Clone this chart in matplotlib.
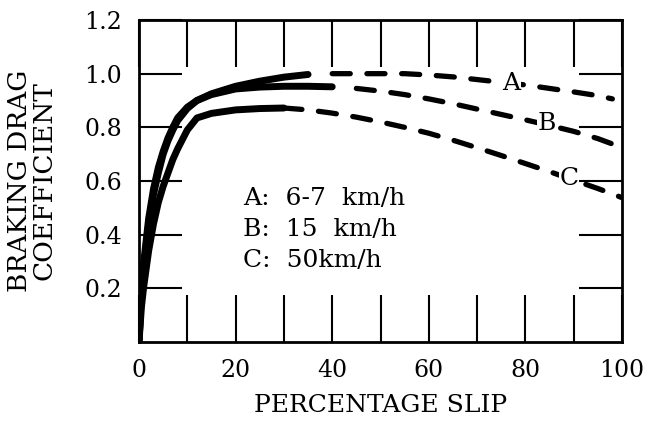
import matplotlib
matplotlib.use("Agg")
import matplotlib.pyplot as plt
import numpy as np

# ---- data ----
slip_a = [0, 0.5, 1, 2, 3, 4, 5, 6, 7, 8, 10, 12, 15, 20, 25, 30, 35, 40, 45, 50,
          55, 60, 65, 70, 75, 80, 85, 90, 95, 98]
coef_a = [0, 0.20, 0.30, 0.46, 0.57, 0.65, 0.71, 0.76, 0.80, 0.835, 0.875, 0.90, 0.925,
          0.953, 0.972, 0.987, 0.997, 1.0, 1.0, 1.0, 1.0, 0.995, 0.988, 0.978, 0.968,
          0.958, 0.945, 0.932, 0.918, 0.906]
slip_b = [0, 0.5, 1, 2, 3, 4, 5, 6, 7, 8, 10, 12, 15, 20, 25, 30, 35, 40, 45, 50,
          55, 60, 65, 70, 75, 80, 85, 90, 95, 98]
coef_b = [0, 0.18, 0.28, 0.44, 0.55, 0.63, 0.70, 0.75, 0.79, 0.825, 0.87, 0.90, 0.922,
          0.943, 0.95, 0.953, 0.953, 0.951, 0.945, 0.935, 0.922, 0.906, 0.888, 0.868,
          0.848, 0.828, 0.807, 0.785, 0.758, 0.738]
slip_c = [0, 0.5, 1, 2, 3, 4, 5, 6, 7, 8, 10, 12, 15, 20, 25, 30, 35, 40, 45, 50,
          55, 60, 65, 70, 75, 80, 85, 90, 95, 100]
coef_c = [0, 0.13, 0.21, 0.34, 0.44, 0.52, 0.58, 0.63, 0.68, 0.72, 0.79, 0.835, 0.852,
          0.865, 0.870, 0.872, 0.865, 0.853, 0.838, 0.820, 0.800, 0.778, 0.752, 0.724,
          0.695, 0.665, 0.635, 0.603, 0.572, 0.538]
solid_until = {"A": 37, "B": 43, "C": 30}

curve_labels = ["A", "B", "C"]
label_pos_x = [77, 84.5, 89]
label_pos_y = [0.963, 0.815, 0.61]

legend_lines = ["A:  6-7  km/h", "B:  15  km/h", "C:  50km/h"]
legend_y = [0.535, 0.42, 0.305]
legend_x = 21.5

x_major = [0, 20, 40, 60, 80, 100]
x_minor = [10, 30, 50, 70, 90]
y_ticks = [0.2, 0.4, 0.6, 0.8, 1.0, 1.2]
y_ticklabels = ["0.2", "0.4", "0.6", "0.8", "1.0", "1.2"]

xlabel = "PERCENTAGE SLIP"
ylabel = "BRAKING DRAG\nCOEFFICIENT"

plt.rcParams['font.family'] = ['DejaVu Serif']
plt.rcParams['lines.scale_dashes'] = False

fig = plt.figure(figsize=(6.5, 4.25), dpi=100)
ax = fig.add_axes([139/650, 1-342/425, 483/650, 322/425])

series = {"A": (slip_a, coef_a), "B": (slip_b, coef_b), "C": (slip_c, coef_c)}
for name, (xs, ys) in series.items():
    xs = np.array(xs, dtype=float)
    ys = np.array(ys, dtype=float)
    s = solid_until[name]
    m1 = xs <= s
    m2 = xs >= s
    ax.plot(xs[m1], ys[m1], color='black', lw=5, solid_capstyle='round',
            solid_joinstyle='round', zorder=3)
    ax.plot(xs[m2], ys[m2], color='black', lw=3.8, dashes=(13, 12),
            dash_capstyle='round', zorder=3)

for lab, lx, ly in zip(curve_labels, label_pos_x, label_pos_y):
    ax.text(lx, ly, lab, fontsize=18, ha='center', va='center', zorder=5,
            bbox=dict(facecolor='white', edgecolor='none', pad=0.5))

for txt, ly in zip(legend_lines, legend_y):
    ax.text(legend_x, ly, txt, fontsize=18, ha='left', va='center')

ax.set_xlim(0, 100)
ax.set_ylim(0, 1.2)
ax.set_xticks(x_major)
ax.set_xticks(x_minor, minor=True)
ax.set_yticks(y_ticks)
ax.set_yticklabels(y_ticklabels)

for sp in ax.spines.values():
    sp.set_linewidth(2.0)

ax.tick_params(axis='x', which='both', direction='in', length=34, width=1.5,
               top=True, bottom=True, pad=12, labelsize=17)
ax.tick_params(axis='y', which='both', direction='in', length=31, width=1.5,
               left=True, right=True, pad=12, labelsize=17)

ax.set_xlabel(xlabel, fontsize=18)
ax.xaxis.set_label_coords(0.5, -(405-342)/322)
ax.xaxis.label.set_va('center')

ax.set_ylabel(ylabel, fontsize=19, linespacing=0.95)
ax.yaxis.set_label_coords(-(139-32)/483, 0.5)
ax.yaxis.label.set_va('center')

fig.savefig("out.png", dpi=100)
